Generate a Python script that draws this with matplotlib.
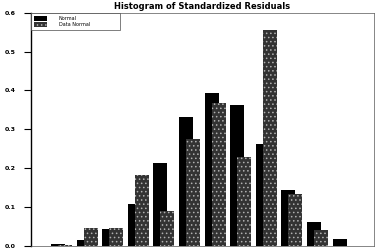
import matplotlib
matplotlib.use("Agg")
import matplotlib.pyplot as plt
import numpy as np

title = "Histogram of Standardized Residuals"
series_names = ["Normal", "Data Normal"]
normal = [0.003, 0.013, 0.042, 0.107, 0.213, 0.331, 0.393, 0.363, 0.263, 0.144, 0.060, 0.016]
data = [0.002, 0.046, 0.045, 0.183, 0.090, 0.276, 0.368, 0.228, 0.556, 0.134, 0.041, 0.0]
yticks = [0.0, 0.1, 0.2, 0.3, 0.4, 0.5, 0.6]
ytick_labels = ["0.0", "0.1", "0.2", "0.3", "0.4", "0.5", "0.6"]

plt.rcParams['hatch.linewidth'] = 0.6
fig = plt.figure(figsize=(3.77, 2.5), dpi=100)
ax = fig.add_axes([0.0822, 0.018, 0.910, 0.930])

x = np.arange(len(normal))
w = 0.55
off = 0.137
ax.bar(x - off, normal, width=w, color="black", linewidth=0, label=series_names[0])
ax.bar(x + off, data, width=w, color="#333333", edgecolor="#b0b0b0", hatch="....",
       linewidth=0, label=series_names[1])

ax.set_xlim(-1.19, 12.21)
ax.set_ylim(0, 0.6)
ax.set_yticks(yticks)
ax.set_yticklabels(ytick_labels, fontsize=4.5, fontweight="bold")
ax.set_xticks([])
ax.tick_params(axis="y", direction="out", length=5, width=0.8, pad=6)
for s in ["top", "right", "bottom"]:
    ax.spines[s].set_linewidth(0.5)
    ax.spines[s].set_color("#555555")
ax.spines["left"].set_linewidth(1.0)

ax.set_title(title, fontsize=6, fontweight="bold", pad=3)
leg = ax.legend(loc="upper left", bbox_to_anchor=(0, 0.93, 0.26, 0.07), mode="expand",
                borderaxespad=0,
                fontsize=3.5, frameon=True, fancybox=False, handlelength=2.6,
                handleheight=1.3, borderpad=0.6, labelspacing=0.2,
                handletextpad=2.5)
leg.get_frame().set_edgecolor("#444444")
leg.get_frame().set_linewidth(0.6)

fig.savefig("out.png", dpi=100)
